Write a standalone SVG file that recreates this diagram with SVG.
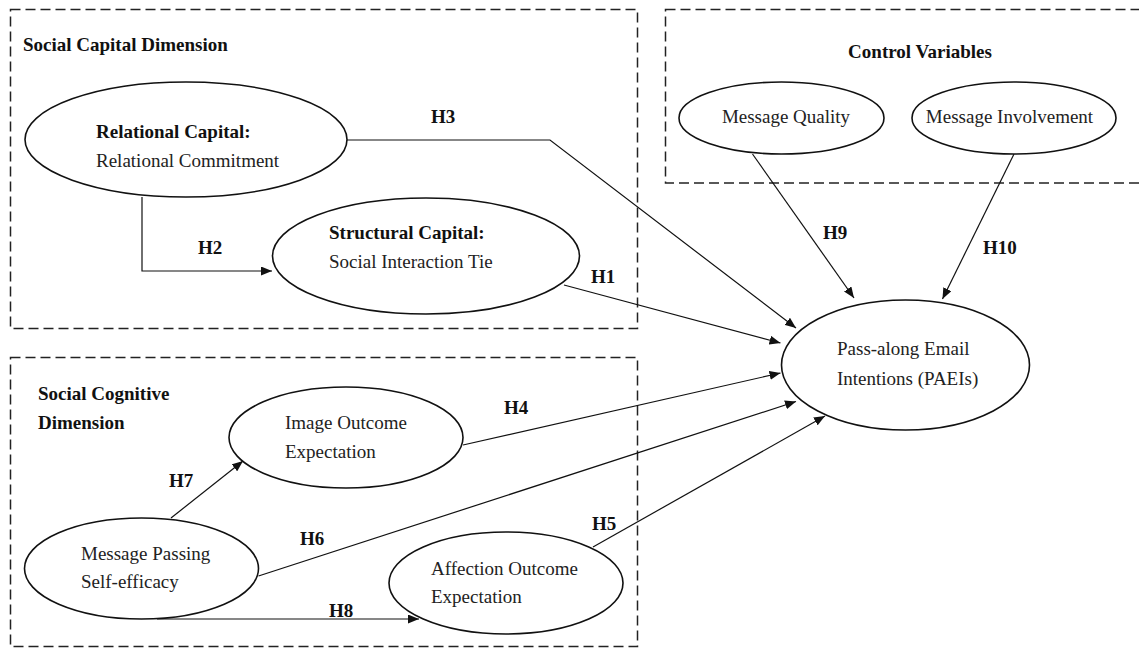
<svg xmlns="http://www.w3.org/2000/svg" width="1139" height="648" viewBox="0 0 1139 648">
<defs>
<marker id="arr" markerWidth="11" markerHeight="9" refX="11" refY="4.5" orient="auto" markerUnits="userSpaceOnUse"><path d="M0,0 L11,4.5 L0,9 z" fill="#111"/></marker>
<style>
.box{fill:none;stroke:#222;stroke-width:1.5;stroke-dasharray:10 5}
.node{fill:#fff;stroke:#111;stroke-width:1.6}
.t{font-family:"Liberation Serif","Times New Roman",serif;font-size:19px;fill:#222}
.b{font-family:"Liberation Serif","Times New Roman",serif;font-size:19px;font-weight:bold;fill:#111}
.c{fill:none;stroke:#111;stroke-width:1.2;marker-end:url(#arr)}
</style>
</defs>
<rect width="1139" height="648" fill="#fff"/>
<g id="groups">
<rect class="box" x="10.5" y="9.5" width="627" height="319"/>
<text class="b" x="23" y="51">Social Capital Dimension</text>
<rect class="box" x="665.5" y="9.5" width="480" height="173.5"/>
<text class="b" x="920" y="58" text-anchor="middle">Control Variables</text>
<rect class="box" x="10.5" y="357.5" width="627" height="289"/>
<text class="b" x="38" y="400">Social Cognitive</text>
<text class="b" x="38" y="429">Dimension</text>
</g>
<g id="connectors">
<path class="c" d="M347,140 L550,140 L796,328"/>
<path class="c" d="M142,197 L142,271 L272,271"/>
<path class="c" d="M564,285 L780.5,343"/>
<path class="c" d="M752.5,154 L854,298"/>
<path class="c" d="M1014,154 L942.5,299"/>
<path class="c" d="M463,445 L780.5,373"/>
<path class="c" d="M258.5,576 L796,401.5"/>
<path class="c" d="M593,547 L825,416"/>
<path class="c" d="M171,518 L243,461"/>
<path class="c" d="M157,619 L419,619"/>
<g class="b">
<text x="431" y="123">H3</text>
<text x="198" y="254">H2</text>
<text x="591" y="283">H1</text>
<text x="823" y="239">H9</text>
<text x="983" y="254">H10</text>
<text x="504" y="414">H4</text>
<text x="169" y="487">H7</text>
<text x="300" y="545">H6</text>
<text x="592" y="530">H5</text>
<text x="329" y="617">H8</text>
</g>
</g>
<g id="relational">
<ellipse class="node" cx="186" cy="139.5" rx="161" ry="57.5"/>
<text class="b" x="96" y="138">Relational Capital:</text>
<text class="t" x="96" y="167">Relational Commitment</text>
</g>
<g id="structural">
<ellipse class="node" cx="426" cy="256" rx="153.5" ry="58"/>
<text class="b" x="329" y="239">Structural Capital:</text>
<text class="t" x="329" y="268">Social Interaction Tie</text>
</g>
<g id="quality">
<ellipse class="node" cx="781.5" cy="118" rx="102.5" ry="36"/>
<text class="t" x="786" y="123" text-anchor="middle">Message Quality</text>
</g>
<g id="involvement">
<ellipse class="node" cx="1014" cy="118" rx="102" ry="36"/>
<text class="t" x="1009.5" y="123" text-anchor="middle">Message Involvement</text>
</g>
<g id="paeis">
<ellipse class="node" cx="905.5" cy="365" rx="124" ry="65"/>
<text class="t" x="837" y="355">Pass-along Email</text>
<text class="t" x="837" y="385">Intentions (PAEIs)</text>
</g>
<g id="image">
<ellipse class="node" cx="346" cy="437.5" rx="117" ry="50.5"/>
<text class="t" x="285" y="429">Image Outcome</text>
<text class="t" x="285" y="458">Expectation</text>
</g>
<g id="selfefficacy">
<ellipse class="node" cx="141.5" cy="568.5" rx="117" ry="50.5"/>
<text class="t" x="81" y="560">Message Passing</text>
<text class="t" x="81" y="588">Self-efficacy</text>
</g>
<g id="affection">
<ellipse class="node" cx="506" cy="583" rx="117" ry="51"/>
<text class="t" x="431" y="575">Affection Outcome</text>
<text class="t" x="431" y="603">Expectation</text>
</g>
</svg>
